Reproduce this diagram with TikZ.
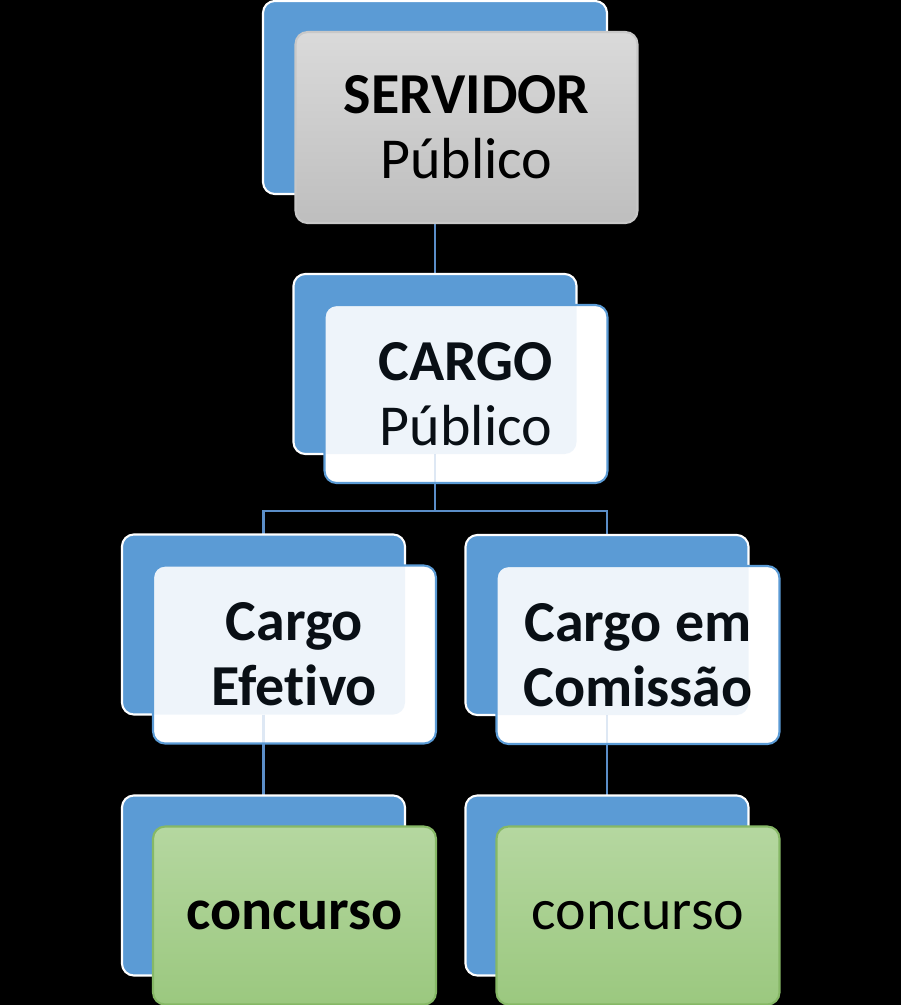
\documentclass[tikz,border=0pt]{standalone}
\usepackage{fontspec}
\setmainfont[Ligatures=NoCommon]{Carlito}
\usetikzlibrary{positioning}
\definecolor{backblue}{HTML}{5B9BD5}
\definecolor{linkblue}{HTML}{5B8EC8}
\definecolor{greytop}{HTML}{DADADA}
\definecolor{greybot}{HTML}{BEBEBE}
\definecolor{greentop}{HTML}{B5D7A0}
\definecolor{greenbot}{HTML}{9BC87F}
\definecolor{greenline}{HTML}{86B866}
\tikzset{backbox/.style = {draw=white, line width=1.2pt, fill=backblue, rounded corners=0.24cm,
    minimum width=5.62cm, minimum height=3.56cm, inner sep=0pt}}
\tikzset{frontbox/.style = {line width=1.2pt, rounded corners=0.24cm, minimum width=5.66cm,
    minimum height=3.56cm, inner sep=0pt, align=center, font=\fontsize{33}{37}\selectfont}}
\tikzset{rootbox/.style = {frontbox, draw=greybot!85, top color=greytop, bottom color=greybot,
    minimum width=6.84cm, minimum height=3.82cm}}
\tikzset{midbox/.style = {frontbox, draw=backblue, fill=white}}
\tikzset{leafbox/.style = {frontbox, draw=greenline, top color=greentop, bottom color=greenbot}}
\tikzset{link/.style = {draw=linkblue, line width=1.2pt}}

\begin{document}
\begin{tikzpicture}[x=0.02cm,y=-0.02cm]
    \useasboundingbox (0,0) rectangle (901,1005);
    \fill[black] (0,0) rectangle (901,1005);

    % Back boxes
    \node[backbox, minimum width=6.84cm, minimum height=3.82cm] (servback) at (435,97.5) {};
    \node[backbox] (cargoback) at (435,364) {};
    \node[backbox] (efetivoback) at (263.5,624.5) {};
    \node[backbox] (comissaoback) at (607,625) {};
    \node[backbox] (concAback) at (263.5,885.5) {};
    \node[backbox] (concBback) at (607,885.5) {};
    \coordinate (fork) at ([shift={(0,57)}]cargoback.south);

    % Connectors
    \draw[link] (servback.south) -- (cargoback.north);
    \draw[link] (cargoback.south) -- (fork) -| (efetivoback.north);
    \draw[link] (fork) -| (comissaoback.north);
    \draw[link] (efetivoback.south) -- (concAback.north);
    \draw[link] (comissaoback.south) -- (concBback.north);

    % redraw back boxes over the connectors
    \foreach \b in {servback,cargoback,efetivoback,comissaoback,concAback,concBback}
        \draw[draw=white, line width=1.2pt, fill=backblue, rounded corners=0.24cm]
            (\b.south west) rectangle (\b.north east);

    % Front boxes
    \node[rootbox] (servidor) at ([shift={(31.5,30)}]servback) {\textbf{SERVIDOR}\\Público};
    \node[midbox] (cargo) at ([shift={(31,30)}]cargoback) {\textbf{CARGO}\\Público};
    \node[midbox] (efetivo) at ([shift={(31,30)}]efetivoback) {\textbf{Cargo}\\\textbf{Efetivo}};
    \node[midbox] (comissao) at ([shift={(31,30)}]comissaoback) {\textbf{Cargo em}\\\textbf{Comissão}};
    \node[leafbox] (concA) at ([shift={(31,30)}]concAback) {\textbf{concurso}};
    \node[leafbox] (concB) at ([shift={(31,30)}]concBback) {concurso};

    % light tint where the white boxes lie over the blue ones
    \foreach \f/\b/\t in {cargo/cargoback/fork, efetivo/efetivoback/concAback.north,
                          comissao/comissaoback/concBback.north} {
        \begin{scope}
            \clip[rounded corners=0.24cm] (\f.south west) rectangle (\f.north east);
            \fill[backblue, opacity=0.1, rounded corners=0.24cm] (\b.south west) rectangle (\b.north east);
            \draw[link, opacity=0.2] (\b.south) -- (\t);
        \end{scope}
    }
\end{tikzpicture}
\end{document}
